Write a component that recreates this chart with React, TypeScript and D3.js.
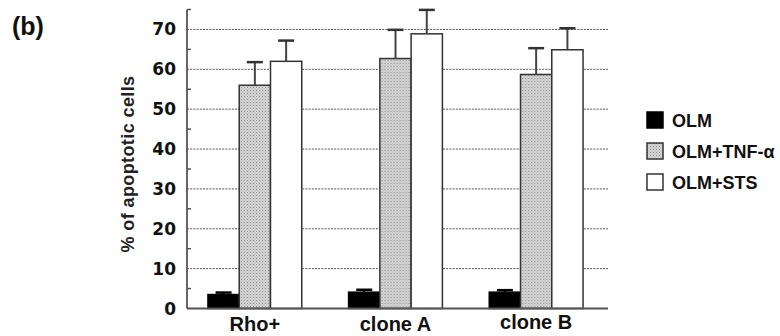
import React from "react";
import * as d3 from "d3";

const groups = ["Rho+", "clone A", "clone B"];
const series = ["OLM", "OLM+TNF-α", "OLM+STS"];
const olm = [3.5, 4.1, 4.1];
const olmErr = [0.5, 0.6, 0.5];
const tnf = [56.0, 62.7, 58.7];
const tnfErr = [5.8, 7.2, 6.6];
const sts = [62.0, 68.9, 64.9];
const stsErr = [5.2, 6.0, 5.4];
const yTicks = [0, 10, 20, 30, 40, 50, 60, 70];
const yMinor = [5, 15, 25, 35, 45, 55, 65, 75];

const W = 780;
const H = 336;

export default function App() {
  const y = d3.scaleLinear().domain([0, 75]).range([308.5, 9.5]);
  const x0 = d3.scaleBand<string>().domain(groups).range([187, 604]).paddingInner(0.333).paddingOuter(0.149);
  const x1 = d3.scaleBand<string>().domain(series).range([0, x0.bandwidth()]);
  const axisX = 187;
  const plotRight = 608;
  const values = [olm, tnf, sts];
  const errs = [olmErr, tnfErr, stsErr];
  const fills = ["#000", "url(#stipple)", "#fff"];
  const strokes = ["#000", "#333", "#333"];

  return (
    <svg width={W} height={H} style={{ position: "absolute", left: 0, top: 0, background: "#fff" }}
      fontFamily="'Liberation Sans', Arial, sans-serif">
      <defs>
        <pattern id="stipple" width="3" height="3" patternUnits="userSpaceOnUse">
          <rect width="3" height="3" fill="#d6d6d6" />
          <rect x="0" y="0" width="1" height="1" fill="#8a8a8a" />
          <rect x="1.5" y="1.5" width="1" height="1" fill="#a8a8a8" />
        </pattern>
      </defs>
      <text x={12} y={35} fontSize={25} fontWeight="bold" fill="#111">(b)</text>

      {/* gridlines */}
      {yTicks.filter(t => t > 0).map(t => (
        <line key={t} x1={axisX} x2={plotRight} y1={y(t)} y2={y(t)} stroke="#555" strokeWidth={1} strokeDasharray="2 1.2" />
      ))}
      {/* minor ticks */}
      {yMinor.map(t => (
        <line key={t} x1={axisX} x2={axisX + 4} y1={y(t)} y2={y(t)} stroke="#555" strokeWidth={1.5} />
      ))}
      {/* tick labels */}
      {yTicks.map(t => (
        <text key={t} x={176} y={y(t) + 6} textAnchor="end" fontSize={17} fontWeight="bold"
          fontFamily="'DejaVu Sans', sans-serif" fill="#111">{t}</text>
      ))}
      <text transform={`translate(134,164) rotate(-90)`} textAnchor="middle" fontSize={18} fontWeight="bold"
        letterSpacing={0.4} fill="#222">% of apoptotic cells</text>

      {/* bars */}
      {groups.map((g, gi) => (
        <g key={g} transform={`translate(${x0(g)},0)`}>
          {series.map((s, si) => {
            const v = values[si][gi];
            const bx = x1(s)!;
            const bw = x1.bandwidth();
            return (
              <rect key={s} x={bx} y={y(v)} width={bw} height={y(0) - y(v)}
                fill={fills[si]} stroke={strokes[si]} strokeWidth={1.5} />
            );
          })}
          {series.map((s, si) => {
            const v = values[si][gi];
            const e = errs[si][gi];
            const cx = x1(s)! + x1.bandwidth() / 2;
            return (
              <g key={s + "e"}>
                <line x1={cx} x2={cx} y1={y(v)} y2={y(v + e)} stroke={si === 0 ? "#000" : "#444"} strokeWidth={2} />
                <line x1={cx - 8} x2={cx + 8} y1={y(v + e)} y2={y(v + e)} stroke={si === 0 ? "#000" : "#333"} strokeWidth={2.5} />
              </g>
            );
          })}
          <text x={x0.bandwidth() / 2} y={331 - (gi === 2 ? 2 : 0)} textAnchor="middle" fontSize={20} fontWeight="bold"
            fill="#111">{g}</text>
        </g>
      ))}

      {/* axes */}
      <line x1={axisX} x2={axisX} y1={y(75)} y2={y(0)} stroke="#555" strokeWidth={1.8} />
      <line x1={axisX} x2={plotRight} y1={y(0)} y2={y(0)} stroke="#555" strokeWidth={2} />

      {/* legend */}
      {series.map((s, i) => (
        <g key={s} transform={`translate(647,${112 + i * 31})`}>
          <rect x={0} y={0} width={16} height={16} fill={fills[i]} stroke={strokes[i]} strokeWidth={1.5} />
          <text x={25} y={14.5} fontSize={18} fontWeight="bold" fill="#111">{s}</text>
        </g>
      ))}
    </svg>
  );
}
